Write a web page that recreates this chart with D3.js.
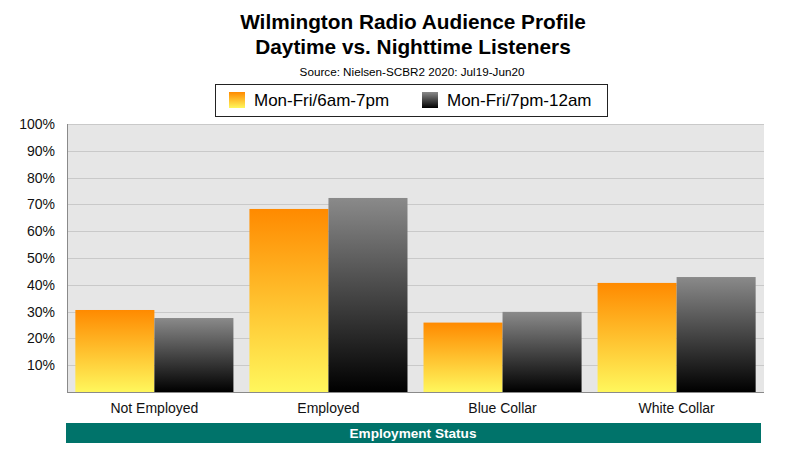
<!DOCTYPE html>
<html>
<head>
<meta charset="utf-8">
<script src="https://cdn.jsdelivr.net/npm/d3@7"></script>
<style>
  body { margin: 0; background: #fff; }
  svg { display: block; font-family: "Liberation Sans", Arial, Helvetica, sans-serif; }
</style>
</head>
<body>
<div id="chart"></div>
<script>
// data
const categories = ["Not Employed", "Employed", "Blue Collar", "White Collar"];
const seriesNames = ["Mon-Fri/6am-7pm", "Mon-Fri/7pm-12am"];
const daytime = [30.6, 68.3, 25.9, 40.7];
const nighttime = [27.6, 72.4, 29.9, 42.9];
const yTicks = [10, 20, 30, 40, 50, 60, 70, 80, 90, 100];

const W = 801, H = 456;
const margin = { top: 124, right: 37, bottom: 64, left: 67 };
const width = W - margin.left - margin.right,
    height = H - margin.top - margin.bottom;

const svg = d3.select("#chart")
    .append("svg")
    .attr("width", W)
    .attr("height", H);

const defs = svg.append("defs");
const gradOrange = defs.append("linearGradient")
    .attr("id", "gOrange").attr("x1", 0).attr("y1", 0).attr("x2", 0).attr("y2", 1);
gradOrange.append("stop").attr("offset", "0%").attr("stop-color", "#ff8a00");
gradOrange.append("stop").attr("offset", "100%").attr("stop-color", "#fff75c");
const gradDark = defs.append("linearGradient")
    .attr("id", "gDark").attr("x1", 0).attr("y1", 0).attr("x2", 0).attr("y2", 1);
gradDark.append("stop").attr("offset", "0%").attr("stop-color", "#8a8a8a");
gradDark.append("stop").attr("offset", "100%").attr("stop-color", "#000000");
const fills = ["url(#gOrange)", "url(#gDark)"];

// titles
svg.append("text")
    .attr("x", 413).attr("y", 29)
    .attr("text-anchor", "middle")
    .style("font-size", "20.8px").style("font-weight", "bold")
    .text("Wilmington Radio Audience Profile");
svg.append("text")
    .attr("x", 413).attr("y", 54)
    .attr("text-anchor", "middle")
    .style("font-size", "20.8px").style("font-weight", "bold")
    .text("Daytime vs. Nighttime Listeners");
svg.append("text")
    .attr("x", 412).attr("y", 76)
    .attr("text-anchor", "middle")
    .style("font-size", "11.7px")
    .text("Source: Nielsen-SCBR2 2020: Jul19-Jun20");

// legend
const legend = svg.append("g");
legend.append("rect")
    .attr("x", 215.5).attr("y", 84.5)
    .attr("width", 392).attr("height", 32)
    .attr("fill", "#fff").attr("stroke", "#222");
const legendX = [229, 422];
seriesNames.forEach((name, i) => {
    legend.append("rect")
        .attr("x", legendX[i]).attr("y", 92)
        .attr("width", 16).attr("height", 16)
        .attr("fill", fills[i]);
    legend.append("text")
        .attr("x", legendX[i] + 25).attr("y", 106)
        .style("font-size", "17px")
        .text(name);
});

const g = svg.append("g")
    .attr("transform", `translate(${margin.left},${margin.top})`);

const x0 = d3.scaleBand().domain(categories).range([0, width])
    .paddingInner(0.092).paddingOuter(0.048);
const x1 = d3.scaleBand().domain(seriesNames).range([0, x0.bandwidth()]);
const y = d3.scaleLinear().domain([0, 100]).range([height, 0]);

g.append("rect")
    .attr("width", width).attr("height", height)
    .attr("fill", "#e6e6e6");

// gridlines
g.append("g")
    .selectAll("line")
    .data(yTicks)
    .enter()
    .append("line")
    .attr("x1", 0).attr("x2", width)
    .attr("y1", d => Math.round(y(d)) + 0.5)
    .attr("y2", d => Math.round(y(d)) + 0.5)
    .attr("stroke", "#c9c9c9").attr("stroke-width", 1);

// y labels
const yAxis = g.append("g")
    .call(d3.axisLeft(y).tickValues(yTicks).tickSize(0).tickPadding(12).tickFormat(d => d + "%"));
yAxis.select(".domain").remove();
yAxis.selectAll("text")
    .style("font-size", "14px")
    .style("font-family", "Liberation Sans, Arial, sans-serif")
    .attr("fill", "#111");

// bars
const rows = categories.map((c, i) => ({ cat: c, values: [daytime[i], nighttime[i]] }));
const groups = g.selectAll(".grp")
    .data(rows)
    .enter()
    .append("g")
    .attr("class", "grp")
    .attr("transform", d => `translate(${x0(d.cat)},0)`);

groups.selectAll("rect")
    .data(d => d.values.map((v, i) => ({ key: seriesNames[i], value: v, i: i })))
    .enter()
    .append("rect")
    .attr("x", d => x1(d.key))
    .attr("y", d => y(d.value))
    .attr("width", x1.bandwidth())
    .attr("height", d => height - y(d.value))
    .attr("fill", d => fills[d.i]);

// axis lines
g.append("line")
    .attr("x1", 0.5).attr("x2", 0.5).attr("y1", 0).attr("y2", height)
    .attr("stroke", "#8a8a8a");
g.append("line")
    .attr("x1", 0).attr("x2", width).attr("y1", height + 0.5).attr("y2", height + 0.5)
    .attr("stroke", "#8a8a8a");

// x labels
const xAxis = g.append("g")
    .attr("transform", `translate(0,${height})`)
    .call(d3.axisBottom(x0).tickSize(0).tickPadding(11));
xAxis.select(".domain").remove();
xAxis.selectAll("text")
    .style("font-size", "14px")
    .style("font-family", "Liberation Sans, Arial, sans-serif")
    .attr("fill", "#111");

// axis title band
svg.append("rect")
    .attr("x", 66).attr("y", 423)
    .attr("width", 695).attr("height", 20)
    .attr("fill", "#00736a");
svg.append("text")
    .attr("x", 413).attr("y", 438)
    .attr("text-anchor", "middle")
    .style("font-size", "13.6px").style("font-weight", "bold")
    .attr("fill", "#fff")
    .text("Employment Status");
</script>
</body>
</html>
